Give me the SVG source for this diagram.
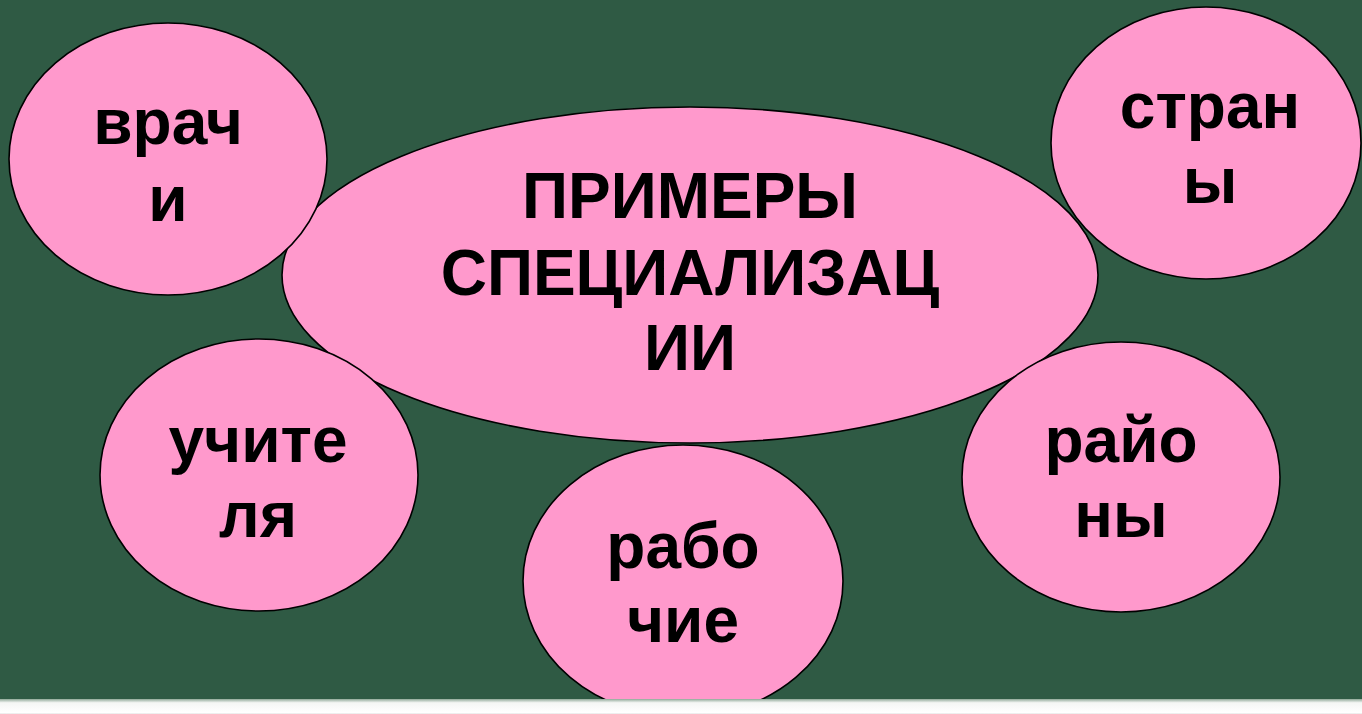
<svg xmlns="http://www.w3.org/2000/svg" width="1362" height="714" viewBox="0 0 1362 714">
<defs>
<style>
.node ellipse{fill:#FF99CC;stroke:#000;stroke-width:1.6}
.node text{font-family:"Liberation Sans",Arial,sans-serif;font-weight:bold;font-size:64px;fill:#000;text-anchor:middle}
</style>
<linearGradient id="strip" x1="0" y1="0" x2="0" y2="1">
<stop offset="0" stop-color="#8FA898"/>
<stop offset="0.25" stop-color="#F4F6F4"/>
<stop offset="0.9" stop-color="#FFFFFF"/>
<stop offset="1" stop-color="#E6E6E6"/>
</linearGradient>
</defs>
<rect x="0" y="0" width="1362" height="714" fill="#2F5A44"/>
<g id="connectors"></g>
<g id="center" class="node">
<ellipse cx="690" cy="275" rx="408" ry="168"/>
<text x="690" y="218">ПРИМЕРЫ</text>
<text x="690" y="295">СПЕЦИАЛИЗАЦ</text>
<text x="690" y="370">ИИ</text>
</g>
<g id="vrachi" class="node">
<ellipse cx="168" cy="159" rx="159" ry="136"/>
<text x="168" y="144">врач</text>
<text x="168" y="221">и</text>
</g>
<g id="strany" class="node">
<ellipse cx="1206" cy="143" rx="155" ry="136"/>
<text x="1210" y="128">стран</text>
<text x="1210" y="203">ы</text>
</g>
<g id="uchitelya" class="node">
<ellipse cx="259" cy="475" rx="159" ry="136"/>
<text x="258" y="462">учите</text>
<text x="258" y="537">ля</text>
</g>
<g id="rayony" class="node">
<ellipse cx="1121" cy="477" rx="159" ry="135"/>
<text x="1121" y="462">райо</text>
<text x="1121" y="537">ны</text>
</g>
<g id="rabochie" class="node">
<ellipse cx="683" cy="581" rx="160" ry="136"/>
<text x="683" y="568">рабо</text>
<text x="683" y="642">чие</text>
</g>
<rect x="0" y="699" width="1362" height="15" fill="url(#strip)"/>
</svg>
